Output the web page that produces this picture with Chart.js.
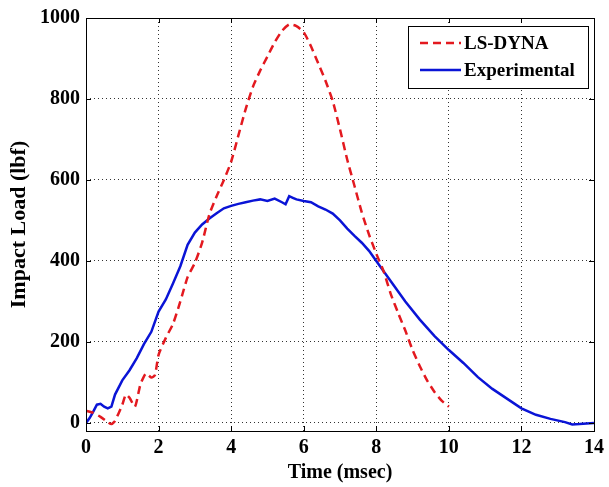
<!DOCTYPE html>
<html>
<head>
<meta charset="utf-8">
<script src="https://cdn.jsdelivr.net/npm/chart.js@4.4.0/dist/chart.umd.min.js"></script>
<style>
  html, body { margin: 0; padding: 0; background: #fff; }
  #wrap { width: 609px; height: 487px; }
</style>
</head>
<body>
<div id="wrap"><canvas id="impactChart" width="609" height="487"></canvas></div>
<script>
// --- DATA ---
const dynaTime = [0, 0.2, 0.4, 0.6, 0.7, 0.8, 1.0, 1.1, 1.2, 1.35, 1.5, 1.65, 1.8, 1.9, 2.0, 2.2, 2.4, 2.6, 2.8,
    3.0, 3.2, 3.4, 3.6, 3.8, 4.0, 4.2, 4.4, 4.6, 4.8, 5.0, 5.2, 5.4, 5.6, 5.8, 6.0, 6.2, 6.4, 6.6, 6.8,
    7.0, 7.2, 7.4, 7.6, 7.8, 8.0, 8.2, 8.4, 8.6, 8.8, 9.0, 9.2, 9.4, 9.6, 9.8, 10.0];
const dynaLoad = [30, 25, 15, 2, -3, 5, 45, 70, 62, 40, 95, 122, 112, 118, 168, 210, 245, 300, 360,
    395, 445, 515, 560, 600, 645, 710, 775, 830, 870, 905, 940, 968, 984, 980, 965, 930, 888, 845, 795,
    725, 650, 585, 520, 465, 418, 375, 318, 272, 228, 180, 140, 105, 77, 55, 40];

const expTime = [0, 0.1, 0.2, 0.3, 0.4, 0.5, 0.6, 0.7, 0.8, 1.0, 1.2, 1.4, 1.6, 1.8, 2.0, 2.2, 2.4, 2.6, 2.8,
    3.0, 3.2, 3.4, 3.6, 3.8, 4.0, 4.2, 4.4, 4.6, 4.8, 5.0, 5.2, 5.4, 5.5, 5.6, 5.7, 5.8, 6.0, 6.2, 6.4, 6.6, 6.8,
    7.0, 7.2, 7.4, 7.6, 7.8, 8.0, 8.4, 8.8, 9.2, 9.6, 10.0, 10.4, 10.8, 11.2, 11.6, 12.0, 12.4, 12.8,
    13.2, 13.4, 13.6, 14.0];
const expLoad = [0, 12, 28, 45, 47, 40, 36, 40, 70, 105, 130, 160, 195, 225, 275, 305, 345, 387, 440,
    470, 490, 505, 518, 530, 536, 541, 545, 549, 552, 548, 554, 545, 540, 560, 556, 552, 548, 545, 535, 527, 517,
    500, 480, 462, 445, 425, 400, 350, 300, 255, 215, 180, 148, 113, 84, 60, 36, 20, 10,
    2, -4, -3, 0];

const xTicks = [0, 2, 4, 6, 8, 10, 12, 14];
const yTicks = [0, 200, 400, 600, 800, 1000];

const seriesNames = ['LS-DYNA', 'Experimental'];

// --- HELPERS ---
const toPoints = (xs, ys) => xs.map((x, i) => ({ x, y: ys[i] }));
const serif = 'Liberation Serif, Times New Roman, serif';

// Draws the box frame plus MATLAB-style inward tick marks
const framePlugin = {
    id: 'frame',
    afterDatasetsDraw(chart) {
        const { ctx, chartArea: a, scales } = chart;
        ctx.save();
        ctx.strokeStyle = '#000';
        ctx.lineWidth = 1;
        ctx.setLineDash([]);
        ctx.strokeRect(a.left + 0.5, a.top + 0.5, a.right - a.left, a.bottom - a.top);
        ctx.beginPath();
        xTicks.forEach(v => {
            const px = Math.round(scales.x.getPixelForValue(v)) + 0.5;
            ctx.moveTo(px, a.bottom); ctx.lineTo(px, a.bottom - 5);
            ctx.moveTo(px, a.top); ctx.lineTo(px, a.top + 5);
        });
        yTicks.forEach(v => {
            const py = Math.round(scales.y.getPixelForValue(v)) + 0.5;
            ctx.moveTo(a.left, py); ctx.lineTo(a.left + 5, py);
            ctx.moveTo(a.right, py); ctx.lineTo(a.right - 5, py);
        });
        ctx.stroke();
        ctx.restore();
    }
};

// Legend box in the top-right corner of the plot area
const legendBoxPlugin = {
    id: 'legendBox',
    afterDraw(chart) {
        const { ctx, chartArea: a } = chart;
        const boxW = 180, boxH = 62;
        const bx = a.right - 6 - boxW, by = a.top + 8;
        ctx.save();
        ctx.fillStyle = '#fff';
        ctx.fillRect(bx, by, boxW, boxH);
        ctx.strokeStyle = '#000';
        ctx.lineWidth = 1;
        ctx.strokeRect(bx + 0.5, by + 0.5, boxW, boxH);
        ctx.font = 'bold 19px ' + serif;
        ctx.textBaseline = 'middle';
        chart.data.datasets.forEach((ds, i) => {
            const ly = by + 17 + i * 27;
            ctx.strokeStyle = ds.borderColor;
            ctx.lineWidth = ds.borderWidth;
            ctx.setLineDash(ds.borderDash || []);
            ctx.beginPath();
            ctx.moveTo(bx + 12, ly);
            ctx.lineTo(bx + 53, ly);
            ctx.stroke();
            ctx.fillStyle = '#000';
            ctx.fillText(ds.label, bx + 56, ly + 1);
        });
        ctx.restore();
    }
};

const tickFont = { family: serif, size: 20, weight: 'bold' };

// --- CHART ---
new Chart(document.getElementById('impactChart'), {
    type: 'line',
    data: {
        datasets: [{
            label: seriesNames[0],
            data: toPoints(dynaTime, dynaLoad),
            borderColor: '#e3191f',
            borderWidth: 2.5,
            borderDash: [8, 5],
            pointRadius: 0,
            tension: 0.2
        }, {
            label: seriesNames[1],
            data: toPoints(expTime, expLoad),
            borderColor: '#0a14d6',
            borderWidth: 2.5,
            pointRadius: 0,
            tension: 0
        }]
    },
    options: {
        responsive: false,
        animation: false,
        layout: { padding: { left: 6, right: 13, top: 18, bottom: 2 } },
        plugins: {
            legend: { display: false },
            tooltip: { enabled: false }
        },
        scales: {
            x: {
                type: 'linear',
                min: 0,
                max: 14,
                afterBuildTicks: (scale) => { scale.ticks = xTicks.map(v => ({ value: v })); },
                afterFit: (scale) => { scale.height = 54; },
                ticks: { color: '#000', font: tickFont, padding: 5, maxRotation: 0, callback: (v) => String(v) },
                grid: { color: '#333', drawTicks: false },
                border: { display: false, dash: [1, 3] },
                title: {
                    display: true, text: 'Time (msec)', color: '#000',
                    font: { family: serif, size: 20, weight: 'bold' },
                    padding: { top: 2, bottom: 0 }
                }
            },
            y: {
                min: -20,
                max: 1000,
                afterBuildTicks: (scale) => { scale.ticks = yTicks.map(v => ({ value: v })); },
                afterFit: (scale) => { scale.width = 80; },
                ticks: { color: '#000', font: tickFont, padding: 6, callback: (v) => String(v) },
                grid: { color: '#333', drawTicks: false },
                border: { display: false, dash: [1, 3] },
                title: {
                    display: true, text: 'Impact Load (lbf)', color: '#000',
                    font: { family: serif, size: 22, weight: 'bold' },
                    padding: { top: 0, bottom: 4 }
                }
            }
        }
    },
    plugins: [framePlugin, legendBoxPlugin]
});
</script>
</body>
</html>
